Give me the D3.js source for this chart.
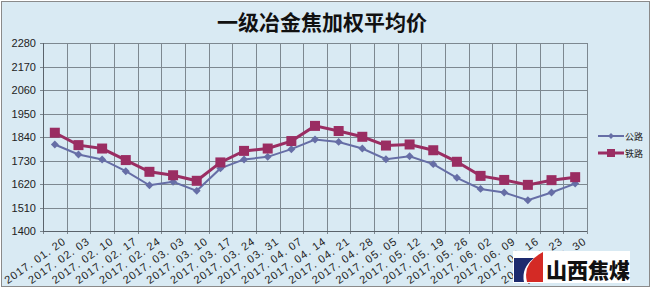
<!DOCTYPE html>
<html>
<head>
<meta charset="utf-8">
<script src="https://cdn.jsdelivr.net/npm/d3@7"></script>
<style>
  body { margin: 0; background: #fff; }
  svg { display: block; }
</style>
</head>
<body>
<div id="chart"></div>
<script>
// Data
const dates = ["2017. 01. 20", "2017. 02. 03", "2017. 02. 10", "2017. 02. 17", "2017. 02. 24",
    "2017. 03. 03", "2017. 03. 10", "2017. 03. 17", "2017. 03. 24", "2017. 03. 31",
    "2017. 04. 07", "2017. 04. 14", "2017. 04. 21", "2017. 04. 28", "2017. 05. 05",
    "2017. 05. 12", "2017. 05. 19", "2017. 05. 26", "2017. 06. 02", "2017. 06. 09",
    "2017. 06. 16", "2017. 06. 23", "2017. 06. 30"];
const road = [1805, 1758, 1735, 1680, 1614, 1630, 1588, 1693, 1735, 1747, 1783, 1828,
    1817, 1786, 1736, 1750, 1713, 1649, 1597, 1580, 1544, 1580, 1622];   // 公路
const rail = [1860, 1802, 1786, 1732, 1677, 1661, 1635, 1721, 1775, 1786, 1821, 1892,
    1868, 1841, 1800, 1805, 1778, 1724, 1658, 1639, 1616, 1638, 1652];   // 铁路
const yTicks = [1400, 1510, 1620, 1730, 1840, 1950, 2060, 2170, 2280];
const title = "一级冶金焦加权平均价";

const W = 652, H = 291;
const plot = { left: 43, right: 587, top: 43, bottom: 231 };
const bg = "#d9eaf3";
const gridColor = "#7d8890";
const roadColor = "#666ea6";
const railColor = "#9a2d62";

const svg = d3.select("#chart").append("svg")
    .attr("width", W)
    .attr("height", H);

// chart background + border
svg.append("rect")
    .attr("x", 1.5).attr("y", 1.5)
    .attr("width", 648).attr("height", 285)
    .attr("fill", bg)
    .attr("stroke", "#8a8a8a");

// Scales
const x = d3.scaleBand()
    .domain(dates)
    .range([plot.left, plot.right])
    .padding(0);
const y = d3.scaleLinear()
    .domain([1400, 2280])
    .range([plot.bottom, plot.top]);
const cx = d => x(d) + x.bandwidth() / 2;

// Grid
const grid = svg.append("g").attr("stroke", gridColor).attr("stroke-width", 1);
grid.selectAll(".h")
    .data(yTicks)
    .enter().append("line")
    .attr("x1", plot.left - 3).attr("x2", plot.right)
    .attr("y1", d => Math.round(y(d)) + 0.5)
    .attr("y2", d => Math.round(y(d)) + 0.5);
const vx = dates.map(d => x(d)).concat([plot.right]);
grid.selectAll(".v")
    .data(vx)
    .enter().append("line")
    .attr("x1", d => Math.round(d) + 0.5).attr("x2", d => Math.round(d) + 0.5)
    .attr("y1", plot.top)
    .attr("y2", plot.bottom + 3);

// axis lines a bit darker
svg.append("line")
    .attr("x1", plot.left + 0.5).attr("x2", plot.left + 0.5)
    .attr("y1", plot.top).attr("y2", plot.bottom)
    .attr("stroke", "#5a636b");
svg.append("line")
    .attr("x1", plot.left).attr("x2", plot.right)
    .attr("y1", Math.round(y(1400)) + 0.5).attr("y2", Math.round(y(1400)) + 0.5)
    .attr("stroke", "#5a636b");

// Y labels
svg.append("g").selectAll("text")
    .data(yTicks)
    .enter().append("text")
    .attr("x", 36)
    .attr("y", d => y(d) + 4)
    .attr("text-anchor", "end")
    .style("font-family", "Liberation Sans, Arial, sans-serif")
    .style("font-size", "11px")
    .attr("fill", "#222")
    .text(d => d);

// X labels (rotated)
svg.append("g").selectAll("text")
    .data(dates)
    .enter().append("text")
    .attr("text-anchor", "end")
    .attr("transform", d => `translate(${cx(d) + 12},${243}) rotate(-35)`)
    .style("font-family", "Liberation Sans, Arial, sans-serif")
    .style("font-size", "11px")
    .style("letter-spacing", "0.9px")
    .attr("fill", "#222")
    .text(d => d);

// Lines
const line = d3.line()
    .x((d, i) => cx(dates[i]))
    .y(d => y(d));

svg.append("path")
    .datum(road)
    .attr("d", line)
    .attr("fill", "none")
    .attr("stroke", roadColor)
    .attr("stroke-width", 2);

svg.append("path")
    .datum(rail)
    .attr("d", line)
    .attr("fill", "none")
    .attr("stroke", railColor)
    .attr("stroke-width", 3);

// Markers
svg.append("g").selectAll("path")
    .data(road)
    .enter().append("path")
    .attr("d", d3.symbol().type(d3.symbolDiamond2).size(40))
    .attr("transform", (d, i) => `translate(${cx(dates[i])},${y(d)})`)
    .attr("fill", roadColor);

svg.append("g").selectAll("rect")
    .data(rail)
    .enter().append("rect")
    .attr("x", (d, i) => cx(dates[i]) - 5)
    .attr("y", d => y(d) - 5)
    .attr("width", 10).attr("height", 10)
    .attr("fill", railColor);

// Title
svg.append("text")
    .attr("x", 322)
    .attr("y", 30)
    .attr("text-anchor", "middle")
    .style("font-family", "Noto Sans CJK SC, sans-serif")
    .style("font-size", "21px")
    .style("font-weight", "bold")
    .attr("fill", "#111")
    .text(title);

// Legend
const legendItems = [
    { name: "公路", color: roadColor, y: 136, marker: "diamond" },
    { name: "铁路", color: railColor, y: 153, marker: "square" }
];
const legend = svg.append("g");
legendItems.forEach(it => {
    legend.append("line")
        .attr("x1", 598).attr("x2", 624)
        .attr("y1", it.y).attr("y2", it.y)
        .attr("stroke", it.color)
        .attr("stroke-width", it.marker === "square" ? 3 : 2);
    if (it.marker === "square") {
        legend.append("rect")
            .attr("x", 607).attr("y", it.y - 4)
            .attr("width", 8).attr("height", 8)
            .attr("fill", it.color);
    } else {
        legend.append("path")
            .attr("d", d3.symbol().type(d3.symbolDiamond2).size(22))
            .attr("transform", `translate(611,${it.y})`)
            .attr("fill", it.color);
    }
    legend.append("text")
        .attr("x", 625).attr("y", it.y + 3.5)
        .style("font-family", "Noto Sans CJK SC, sans-serif")
        .style("font-size", "9px")
        .attr("fill", "#222")
        .text(it.name);
});

// Watermark logo
const logo = svg.append("g");
logo.append("rect")
    .attr("x", 513).attr("y", 251)
    .attr("width", 117).attr("height", 32)
    .attr("fill", "#fff");
logo.append("path")
    .attr("d", "M514,258 L534,258 Q521,268 524,282 L514,282 Z")
    .attr("fill", "#1d2a6e");
logo.append("path")
    .attr("d", "M527,282 Q522,263 543,252 L543,282 Z")
    .attr("fill", "#d42a25");
logo.append("text")
    .attr("x", 546).attr("y", 278)
    .style("font-family", "Noto Sans CJK SC, sans-serif")
    .style("font-size", "21px")
    .style("font-weight", "900")
    .attr("fill", "#111")
    .text("山西焦煤");
</script>
</body>
</html>
